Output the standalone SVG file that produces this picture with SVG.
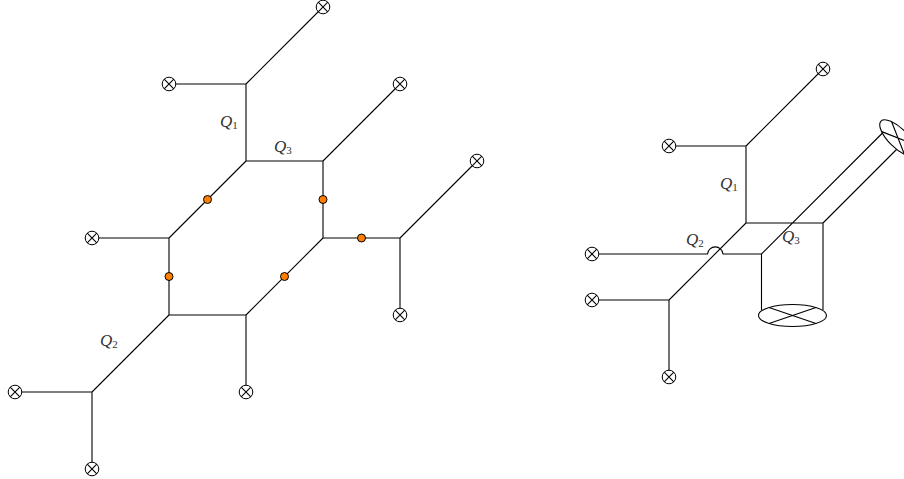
<svg xmlns="http://www.w3.org/2000/svg" width="904" height="479" viewBox="0 0 904 479">
<style>
.l{fill:none;stroke:#000;stroke-width:1.1}
.v{fill:#fff;stroke:#000;stroke-width:1}
.d{fill:#ff8000;stroke:#000;stroke-width:1}
.e{fill:#fff;stroke:#000;stroke-width:1.1}
text{font-family:"Liberation Serif",serif;font-style:italic;font-size:17px;fill:#333}
.s{font-size:11px;font-style:normal}
</style>
<defs>
<g id="x"><circle class="v" r="6.800"/><path class="l" d="M-4.800-4.800 4.800 4.800M-4.800 4.800 4.800-4.800"/></g>
</defs>
<g id="connectors">
<path class="l" d="M323 7 246 84M169 84H246V161M246 161H323M323 161 400 84M323 161V238M246 161 169 238M92 238H169V315M323 238H400M400 238 477 161M400 238V315M323 238 246 315M169 315H246M246 315V392M169 315 92 392M15 392H92V469"/>
<path class="l" d="M823 69 746 146M669 146H746V223M746 223H823M746 223 669 300M592 300H669V377M592 254H707.500A7.800 8 0 0 1 723 254H761.500M761.500 254 885 130.500M823 223 897 149M761.500 254V310M823 223V310"/>
</g>
<g id="n1"><use href="#x" x="323" y="7"/></g>
<g id="n2"><use href="#x" x="169" y="84"/></g>
<g id="n3"><use href="#x" x="400" y="84"/></g>
<g id="n4"><use href="#x" x="477" y="161"/></g>
<g id="n5"><use href="#x" x="92" y="238"/></g>
<g id="n6"><use href="#x" x="400" y="315"/></g>
<g id="n7"><use href="#x" x="246" y="392"/></g>
<g id="n8"><use href="#x" x="15" y="392"/></g>
<g id="n9"><use href="#x" x="92" y="469"/></g>
<g id="d1"><circle class="d" cx="207.500" cy="199.500" r="4"/></g>
<g id="d2"><circle class="d" cx="323" cy="199.500" r="4"/></g>
<g id="d3"><circle class="d" cx="361.500" cy="238" r="4"/></g>
<g id="d4"><circle class="d" cx="284.500" cy="276.500" r="4"/></g>
<g id="d5"><circle class="d" cx="169" cy="276.500" r="4"/></g>
<g id="r1"><use href="#x" x="823" y="69"/></g>
<g id="r2"><use href="#x" x="669" y="146"/></g>
<g id="r3"><use href="#x" x="592" y="254"/></g>
<g id="r4"><use href="#x" x="592" y="300"/></g>
<g id="r5"><use href="#x" x="669" y="377"/></g>
<g id="loop-bottom"><ellipse class="e" cx="792.500" cy="315.500" rx="34" ry="11"/><path class="l" d="M769 307.500 816 323.500M769 323.500 816 307.500"/></g>
<g id="loop-top" transform="translate(898 138) rotate(45)"><ellipse class="e" rx="24" ry="9.500"/><path class="l" d="M-16-7 16 7M-16 7 16-7"/></g>
<g id="labels">
<text x="220" y="127">Q<tspan class="s" dy="2">1</tspan></text>
<text x="274" y="152">Q<tspan class="s" dy="2">3</tspan></text>
<text x="100" y="346">Q<tspan class="s" dy="2">2</tspan></text>
<text x="720" y="189">Q<tspan class="s" dy="2">1</tspan></text>
<text x="686" y="245">Q<tspan class="s" dy="2">2</tspan></text>
<text x="782" y="242">Q<tspan class="s" dy="2">3</tspan></text>
</g>
</svg>
